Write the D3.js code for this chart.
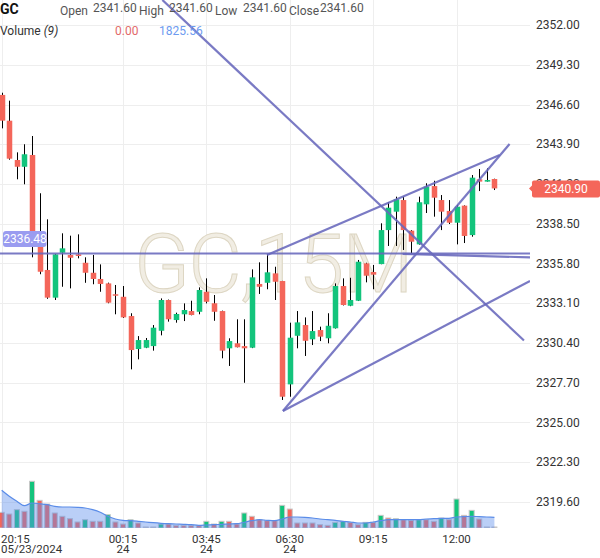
<!DOCTYPE html>
<html>
<head>
<meta charset="utf-8">
<script src="https://cdn.jsdelivr.net/npm/d3@7"></script>
<style>
  body { margin: 0; background: #fff; }
  text { font-family: Roboto, "Noto Sans", sans-serif; }
</style>
</head>
<body>
<div id="chart"></div>
<script>
/* Candle data, 15 minute bars */
const opens  = [2347.25,2345.50,2342.83,2342.37,2343.17,2336.94,2335.36,2333.48,2336.53,2336.38,2336.42,2335.85,2335.17,2334.75,2334.45,2333.71,2333.54,2332.23,2329.99,2330.08,2330.19,2331.23,2333.32,2331.96,2332.35,2332.57,2332.52,2333.88,2333.10,2332.57,2330.04,2330.38,2330.19,2330.08,2334.41,2334.49,2335.13,2334.61,2327.59,2330.89,2331.62,2330.65,2331.28,2330.72,2331.40,2334.27,2332.93,2333.27,2335.81,2335.22,2335.76,2338.07,2339.32,2340.11,2338.03,2337.10,2339.82,2341.06,2340.11,2339.37,2338.57,2339.73,2337.73,2341.52,2341.36,2341.54];
const highs  = [2347.40,2346.86,2343.35,2343.90,2344.46,2340.57,2338.80,2336.45,2337.85,2337.69,2337.78,2336.22,2336.38,2335.74,2334.50,2334.34,2334.27,2332.42,2330.87,2330.74,2331.62,2333.43,2333.35,2332.46,2333.09,2333.27,2334.18,2334.79,2333.66,2332.60,2330.72,2332.01,2332.01,2335.40,2335.88,2336.44,2335.58,2334.62,2331.78,2332.57,2332.14,2332.57,2331.51,2332.42,2334.45,2334.79,2334.83,2336.04,2335.85,2335.70,2338.53,2339.96,2340.34,2340.34,2338.07,2340.34,2341.25,2341.42,2340.45,2340.11,2339.78,2339.75,2341.81,2342.22,2342.27,2341.56];
const lows   = [2344.98,2342.85,2341.52,2341.18,2336.22,2335.07,2333.40,2333.32,2334.22,2334.11,2336.15,2334.49,2334.39,2333.88,2333.10,2332.35,2332.10,2328.61,2329.29,2330.05,2329.88,2330.92,2331.85,2331.78,2331.89,2332.28,2332.35,2333.09,2331.91,2329.36,2328.84,2330.10,2327.70,2330.05,2333.73,2334.05,2333.32,2326.53,2326.75,2330.04,2329.52,2330.26,2330.53,2330.38,2331.38,2332.95,2332.90,2333.25,2334.52,2334.05,2335.75,2336.99,2336.99,2336.72,2336.49,2337.08,2339.23,2338.98,2338.07,2338.48,2337.10,2337.19,2337.62,2340.72,2341.36,2340.79];
const closes = [2345.50,2342.92,2342.37,2343.22,2337.06,2335.24,2333.48,2336.42,2336.83,2336.19,2336.31,2335.17,2334.75,2334.41,2333.14,2333.61,2332.14,2329.92,2330.60,2330.60,2331.44,2333.32,2332.01,2332.37,2332.64,2332.30,2334.00,2333.20,2332.52,2329.88,2330.53,2330.11,2330.04,2334.86,2334.22,2335.20,2334.56,2326.75,2330.76,2331.80,2330.55,2331.21,2330.83,2331.57,2334.27,2332.98,2333.32,2335.92,2334.97,2335.04,2338.07,2339.59,2340.16,2338.07,2337.28,2339.96,2341.02,2340.27,2339.32,2338.57,2339.66,2337.67,2341.63,2341.36,2341.47,2340.90];

const volumes = [2600,2320,3040,2770,7750,4590,3980,2490,1940,1550,1000,1380,1110,1110,2210,1000,660,1380,830,170,170,660,660,390,390,390,390,1110,660,1110,1110,660,2490,1940,1380,1220,1220,3760,3150,830,830,830,550,440,940,1110,940,550,940,940,2100,1660,1550,1380,1270,1380,1380,1110,1660,1380,4810,2100,2930,1490,170,170];
// 1 = green volume bar, 0 = red
const volUp = [0,0,1,0,1,0,0,0,0,0,0,1,0,0,1,0,0,1,0,0,0,1,0,0,0,0,0,1,0,1,0,0,1,0,0,0,0,1,0,0,0,0,0,0,1,1,0,0,1,0,1,0,1,0,0,1,0,0,1,0,1,0,1,0,0,0];
const volMA = [6260,5260,4430,3700,4150,4030,3870,3600,3490,3490,3440,3320,3040,2610,1940,1490,1280,1210,1110,1000,880,780,710,660,610,550,450,500,550,610,660,710,950,1210,1380,1280,1210,1490,1830,1830,1780,1660,1490,1380,1280,1110,1000,830,830,1000,1210,1380,1380,1380,1380,1380,1490,1540,1610,1610,1830,1880,1940,1880,1830,1780];

const priceTicks = [2319.60,2322.30,2325.00,2327.70,2330.40,2333.10,2335.80,2338.50,2341.20,2343.90,2346.60,2349.30,2352.00];
const timeTickIdx = [0,16,27,38,49,60];
const timeTickTop = ["20:15","00:15","03:45","06:30","09:15","12:00"];
const timeTickSub = ["05/23/2024","24","24","24","",""];

// drawings: [index, price] pairs
const hLinePrice = 2336.48;
const trendLines = [
  [[21.2, 2353.70], [68.9, 2330.57]],   // long falling line
  [[-1, 2336.48], [69.7, 2336.48]],     // horizontal line
  [[52.9, 2336.45], [69.7, 2336.22]],   // near-flat copy
  [[37.1, 2325.78], [67.0, 2343.92]],   // steep rising
  [[37.1, 2325.78], [69.7, 2334.61]],   // lower rising
  [[35.0, 2336.38], [65.7, 2343.17]]    // upper rising
];
const lastPrice = 2340.90;

/* Setup */
const width = 600, height = 558;
const plotRight = 530, plotBottom = 528;
const green = "#13c47c", red = "#f4665a";

let svg = d3.select("#chart").append("svg")
  .attr("width", width)
  .attr("height", height)
  .style("background", "#fff");

svg.append("clipPath").attr("id", "plot")
  .append("rect").attr("x", 0).attr("y", 0).attr("width", plotRight).attr("height", plotBottom);

let x = d3.scaleLinear().domain([0, 65]).range([1.7, 1.7 + 7.58 * 65]);
let y = d3.scaleLinear().domain([2319.6, 2352.0]).range([502, 25]);
let yVol = d3.scaleLinear().domain([0, 8000]).range([plotBottom, plotBottom - 8000 / 166]);

/* Grid */
svg.append("g").selectAll("line").data(priceTicks).enter().append("line")
  .attr("x1", 0).attr("x2", plotRight)
  .attr("y1", d => Math.round(y(d)) + 0.5).attr("y2", d => Math.round(y(d)) + 0.5)
  .attr("stroke", "#eeeeee");
svg.append("g").selectAll("line").data(timeTickIdx).enter().append("line")
  .attr("x1", d => Math.round(x(d)) + 0.5).attr("x2", d => Math.round(x(d)) + 0.5)
  .attr("y1", 0).attr("y2", plotBottom)
  .attr("stroke", "#eeeeee");

/* Watermark */
svg.append("text")
  .attr("x", 134).attr("y", 292)
  .attr("font-size", 82).attr("font-weight", 300)
  .attr("letter-spacing", -1.5)
  .attr("fill", "#f1ede3").attr("stroke", "#ddd6c3").attr("stroke-width", 1)
  .text("GC,15M");

/* Volume pane */
let vol = svg.append("g").attr("clip-path", "url(#plot)");
vol.selectAll("rect").data(volumes).enter().append("rect")
  .attr("x", (d, i) => x(i) - 2.5)
  .attr("width", 5)
  .attr("y", d => yVol(d))
  .attr("height", d => plotBottom - yVol(d))
  .attr("fill", (d, i) => volUp[i] ? green : red)
  .attr("stroke", "#c8c8c8").attr("stroke-width", 1);

let maArea = d3.area()
  .x((d, i) => x(i))
  .y0(plotBottom)
  .y1(d => yVol(d))
  .curve(d3.curveMonotoneX);
let maLine = d3.line()
  .x((d, i) => x(i))
  .y(d => yVol(d))
  .curve(d3.curveMonotoneX);
vol.append("path").datum(volMA).attr("d", maArea).attr("fill", "rgba(90,140,235,0.42)");
vol.append("path").datum(volMA).attr("d", maLine).attr("fill", "none").attr("stroke", "#5a8ce8").attr("stroke-width", 1.2);

/* Candles */
let candles = svg.append("g");
let idx = d3.range(opens.length);
candles.selectAll("line").data(idx).enter().append("line")
  .attr("x1", i => Math.round(x(i)) + 0.5).attr("x2", i => Math.round(x(i)) + 0.5)
  .attr("y1", i => y(highs[i])).attr("y2", i => y(lows[i]))
  .attr("stroke", "#000").attr("stroke-width", 1);
candles.selectAll("rect").data(idx).enter().append("rect")
  .attr("x", i => Math.round(x(i)) + 0.5 - 2.75)
  .attr("width", 5.5)
  .attr("y", i => y(Math.max(opens[i], closes[i])))
  .attr("height", i => Math.max(1, Math.abs(y(opens[i]) - y(closes[i]))))
  .attr("fill", i => closes[i] >= opens[i] ? green : red);

/* Drawings */
let draw = svg.append("g").attr("clip-path", "url(#plot)");
draw.selectAll("line").data(trendLines).enter().append("line")
  .attr("x1", d => x(d[0][0])).attr("y1", d => y(d[0][1]))
  .attr("x2", d => x(d[1][0])).attr("y2", d => y(d[1][1]))
  .attr("stroke", "rgba(104,104,188,0.88)").attr("stroke-width", 2.2);

/* Price axis labels */
svg.append("g").selectAll("text").data(priceTicks).enter().append("text")
  .attr("x", 536).attr("y", d => y(d) + 4)
  .attr("font-size", 12).attr("fill", "#333")
  .text(d => d.toFixed(2));

/* Last price tag */
let ly = y(lastPrice);
svg.append("path")
  .attr("d", `M529,${ly} L533,${ly - 4} L533,${ly + 4} Z`)
  .attr("fill", red);
svg.append("rect")
  .attr("x", 532).attr("y", ly - 8).attr("width", 68).attr("height", 17).attr("rx", 2)
  .attr("fill", red);
svg.append("text")
  .attr("x", 566).attr("y", ly + 4.5).attr("text-anchor", "middle")
  .attr("font-size", 12).attr("fill", "#fff")
  .text(lastPrice.toFixed(2));

/* Horizontal line tag */
let hy = y(hLinePrice);
svg.append("rect")
  .attr("x", 3).attr("y", hy - 22.5).attr("width", 43.5).attr("height", 16).attr("rx", 3)
  .attr("fill", "#9a9cf0");
svg.append("text")
  .attr("x", 25).attr("y", hy - 10.5).attr("text-anchor", "middle")
  .attr("font-size", 12).attr("fill", "#fff")
  .text(hLinePrice.toFixed(2));

/* Time axis labels */
let tl = svg.append("g");
timeTickIdx.forEach((t, k) => {
  let anchor = k === 0 ? "start" : "middle";
  let tx = k === 0 ? 1 : x(t);
  tl.append("text").attr("x", tx).attr("y", 542.5).attr("text-anchor", anchor)
    .attr("font-size", 11.5).attr("fill", "#333").text(timeTickTop[k]);
  if (timeTickSub[k]) {
    tl.append("text").attr("x", tx).attr("y", 553).attr("text-anchor", anchor)
      .attr("font-size", 11.5).attr("fill", "#333").text(timeTickSub[k]);
  }
});

/* Legend */
svg.append("text").attr("x", 0).attr("y", 14)
  .attr("font-size", 14).attr("font-weight", 700).attr("fill", "#111").text("GC");
const legendItems = [["Open", 60, 93], ["High", 139, 169], ["Low", 215, 243], ["Close", 289, 320]];
legendItems.forEach(d => {
  svg.append("text").attr("x", d[1]).attr("y", 15).attr("font-size", 12).attr("fill", "#555").text(d[0]);
  svg.append("text").attr("x", d[2]).attr("y", 12).attr("font-size", 12).attr("fill", "#555").text("2341.60");
});
let vt = svg.append("text").attr("x", 0).attr("y", 35).attr("font-size", 12).attr("fill", "#333");
vt.append("tspan").text("Volume ");
vt.append("tspan").attr("font-style", "italic").text("(9)");
svg.append("text").attr("x", 115).attr("y", 35).attr("font-size", 12).attr("fill", "#e26a6a").text("0.00");
svg.append("text").attr("x", 159).attr("y", 35).attr("font-size", 12).attr("fill", "#6d9bf0").text(d3.format(".2f")(1825.56));
</script>
</body>
</html>
